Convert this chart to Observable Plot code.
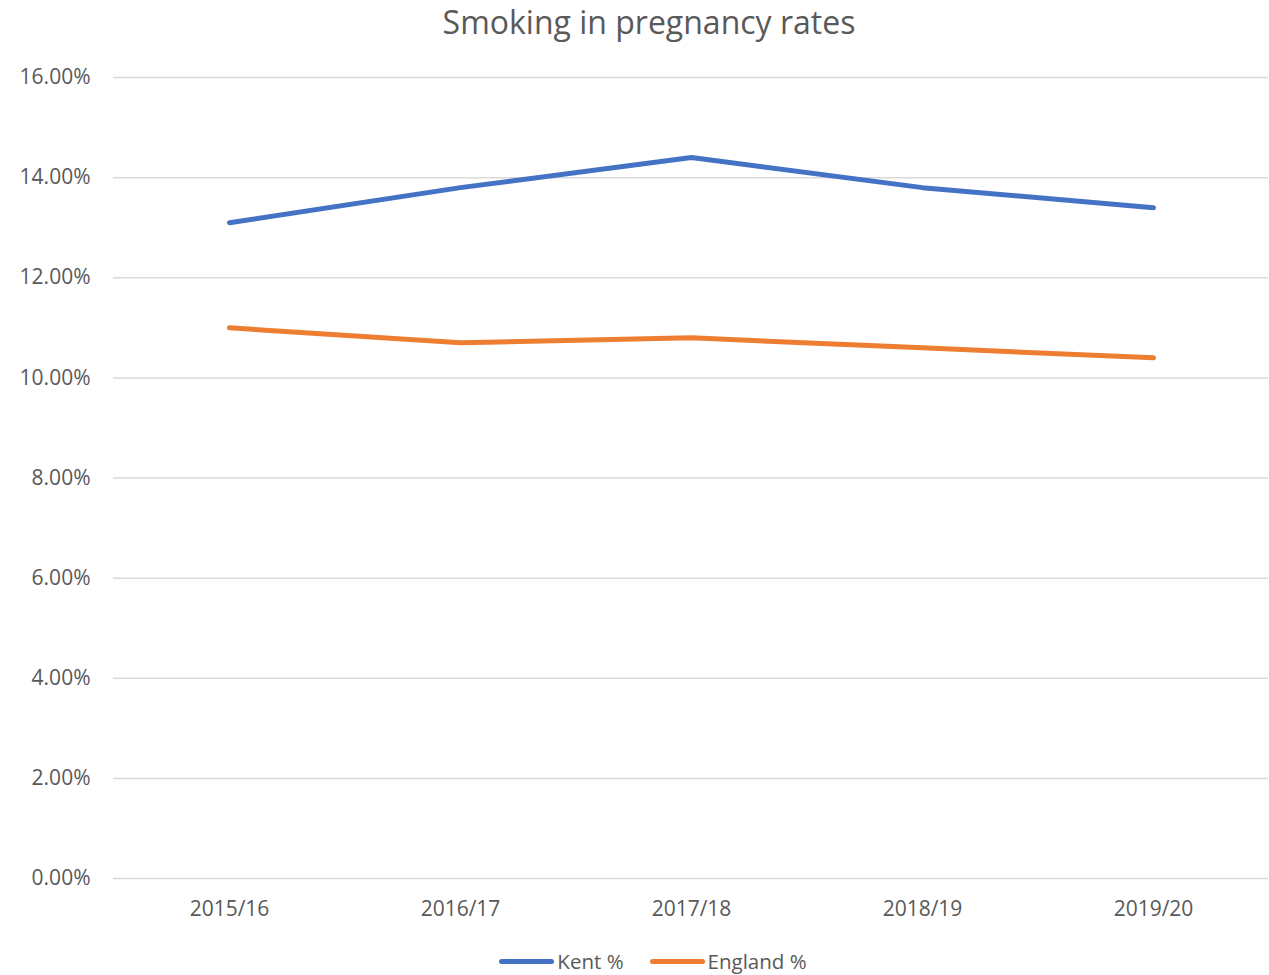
<!DOCTYPE html>
<html>
<head>
<meta charset="utf-8">
<script src="https://cdn.jsdelivr.net/npm/d3@7"></script>
<script src="https://cdn.jsdelivr.net/npm/@observablehq/plot@0.6"></script>
<style>
  body { margin: 0; background: #fff; font-family: "Open Sans", sans-serif; color: #595959; overflow: hidden; }
  #title { height: 50px; line-height: 44px; text-align: center; font-size: 32px; width: 1298px; }
  #legend { box-sizing: border-box; height: 39px; padding-top: 14px; display: flex; justify-content: center; align-items: center; font-size: 20.5px; line-height: 1; width: 1306px; gap: 26px; }
  .item { display: flex; align-items: center; gap: 3px; }
  .sw { width: 55px; height: 5px; border-radius: 3px; display: inline-block; }
</style>
</head>
<body>
<div id="title">Smoking in pregnancy rates</div>
<div id="chart"></div>
<div id="legend"></div>
<script>
const years = ["2015/16", "2016/17", "2017/18", "2018/19", "2019/20"];
const kent = [13.1, 13.8, 14.4, 13.8, 13.4];
const england = [11.0, 10.7, 10.8, 10.6, 10.4];
const yTicks = [0, 2, 4, 6, 8, 10, 12, 14, 16];
const seriesNames = ["Kent %", "England %"];
const seriesColors = ["#4472c4", "#ed7d31"];

const data = [
  ...years.map((y, i) => ({year: y, value: kent[i], series: seriesNames[0]})),
  ...years.map((y, i) => ({year: y, value: england[i], series: seriesNames[1]}))
];

const chart = Plot.plot({
  width: 1269,
  height: 885,
  marginTop: 27,
  marginBottom: 57,
  marginLeft: 113,
  marginRight: 1,
  style: {fontFamily: "Open Sans, sans-serif", fontSize: "21px", color: "#595959", background: "#fff", display: "block"},
  x: {type: "point", domain: years, padding: 0.5, label: null, tickSize: 0, tickPadding: 22},
  y: {domain: [0, 16], ticks: yTicks, tickFormat: d => d.toFixed(2) + "%", label: null, tickSize: 0, tickPadding: 23},
  color: {domain: seriesNames, range: seriesColors},
  marks: [
    Plot.ruleY(yTicks, {stroke: "#d9d9d9", strokeWidth: 1.5}),
    Plot.axisY({ticks: yTicks, tickFormat: d => d.toFixed(2) + "%", tickSize: 0, tickPadding: 23, label: null, fill: "#595959"}),
    Plot.axisX({tickSize: 0, tickPadding: 23, label: null, fill: "#595959"}),
    Plot.line(data, {x: "year", y: "value", z: "series", stroke: "series", strokeWidth: 5, strokeLinecap: "round", strokeLinejoin: "round"})
  ]
});
document.getElementById("chart").appendChild(chart);

const legend = document.getElementById("legend");
seriesNames.forEach((name, i) => {
  const item = document.createElement("span");
  item.className = "item";
  const sw = document.createElement("span");
  sw.className = "sw";
  sw.style.background = seriesColors[i];
  const t = document.createElement("span");
  t.textContent = name;
  item.appendChild(sw);
  item.appendChild(t);
  legend.appendChild(item);
});
</script>
</body>
</html>
